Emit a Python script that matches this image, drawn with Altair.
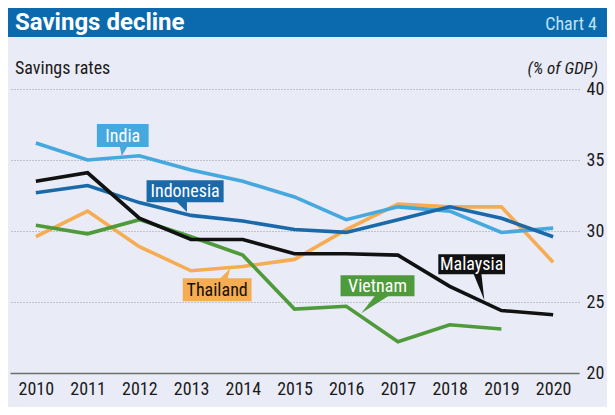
import altair as alt
import pandas as pd

years = [2010, 2011, 2012, 2013, 2014, 2015, 2016, 2017, 2018, 2019, 2020]
india = [36.2, 35.0, 35.3, 34.3, 33.5, 32.4, 30.8, 31.7, 31.4, 29.9, 30.2]
indonesia = [32.7, 33.2, 32.0, 31.1, 30.7, 30.1, 29.9, 30.8, 31.7, 30.9, 29.6]
malaysia = [33.5, 34.1, 30.9, 29.4, 29.4, 28.4, 28.4, 28.3, 26.1, 24.4, 24.1]
thailand = [29.6, 31.4, 28.9, 27.2, 27.5, 28.0, 30.1, 31.9, 31.7, 31.7, 27.8]
vietnam = [30.4, 29.8, 30.8, 29.6, 28.3, 24.5, 24.7, 22.2, 23.4, 23.1, None]

series = {
    "Thailand": (thailand, "#F5AC52"),
    "Vietnam": (vietnam, "#4F9B3C"),
    "India": (india, "#45A8DE"),
    "Indonesia": (indonesia, "#1A69A9"),
    "Malaysia": (malaysia, "#111111"),
}

y_ticks = [20, 25, 30, 35, 40]

# label annotations (data units): box extents, pointer tip, pointer path (px)
labels = ["India", "Indonesia", "Thailand", "Vietnam", "Malaysia"]
box_x1 = [2011.18, 2012.14, 2012.84, 2015.89, 2017.78]
box_x2 = [2012.18, 2013.63, 2014.17, 2017.32, 2019.07]
box_y1 = [37.53, 33.58, 26.67, 26.88, 28.36]
box_y2 = [35.91, 32.03, 25.05, 25.40, 26.95]
tip_x = [2011.66, 2012.92, 2013.76, 2016.29, 2018.67]
tip_y = [35.28, 31.33, 27.38, 24.20, 25.12]
tip_path = ["M0,0 L-2,-10 L6,-10 Z", "M0,0 L-11,-11 L0,-11 Z", "M0,0 L-11,11 L-3,11 Z",
            "M0,0 L15,-19 L30,-19 Z", "M0,0 L-11,-27 L-3,-27 Z"]
box_fill = ["#45A8DE", "#1A69A9", "#F5AC52", "#4F9B3C", "#111111"]
text_col = ["#FFFFFF", "#FFFFFF", "#111111", "#FFFFFF", "#FFFFFF"]

FONT = "Liberation Sans Narrow, Roboto Condensed, Roboto, sans-serif"

rows = []
for name, (vals, col) in series.items():
    for yr, v in zip(years, vals):
        if v is not None:
            rows.append({"year": yr, "value": v, "country": name})
df = pd.DataFrame(rows)

ann = pd.DataFrame({
    "label": labels, "x1": box_x1, "x2": box_x2, "y1": box_y1, "y2": box_y2,
    "tx": tip_x, "ty": tip_y, "path": tip_path, "fill": box_fill, "tcol": text_col,
})
ann["xc"] = (ann["x1"] + ann["x2"]) / 2
ann["yc"] = (ann["y1"] + ann["y2"]) / 2

xscale = alt.Scale(domain=[2009.5, 2020.5], nice=False, zero=False)
yscale = alt.Scale(domain=[20, 40], nice=False, zero=False)

xaxis = alt.Axis(values=years, format="d", title=None, ticks=False, grid=False,
                 domain=True, domainColor="#6f6f6f", domainWidth=1.3,
                 labelFont=FONT, labelFontSize=18, labelColor="#1a1a1a",
                 labelPadding=7, labelFlush=False)
yaxis = alt.Axis(values=y_ticks, orient="right", title=None, ticks=False, domain=False,
                 grid=True, gridDash=[1, 2], gridColor="#9a9a9a", gridWidth=1,
                 labelFont=FONT, labelFontSize=18, labelColor="#1a1a1a",
                 labelPadding=7, labelBaseline="middle")

base_axes = alt.Chart(df).mark_line(opacity=0).encode(
    x=alt.X("year:Q", scale=xscale, axis=xaxis),
    y=alt.Y("value:Q", scale=yscale, axis=yaxis),
    detail="country:N",
)

layers = [base_axes]
for name, (vals, col) in series.items():
    layers.append(
        alt.Chart(df[df["country"] == name]).mark_line(
            color=col, strokeWidth=3.6, strokeJoin="miter", strokeCap="butt"
        ).encode(
            x=alt.X("year:Q", scale=xscale),
            y=alt.Y("value:Q", scale=yscale),
        )
    )

boxes = alt.Chart(ann).mark_rect().encode(
    x=alt.X("x1:Q", scale=xscale), x2="x2:Q",
    y=alt.Y("y1:Q", scale=yscale), y2="y2:Q",
    color=alt.Color("fill:N", scale=None),
)
pointers = alt.Chart(ann).mark_point(filled=True, size=4, opacity=1, strokeWidth=0).encode(
    x=alt.X("tx:Q", scale=xscale),
    y=alt.Y("ty:Q", scale=yscale),
    shape=alt.Shape("path:N", scale=None),
    color=alt.Color("fill:N", scale=None),
)
texts = alt.Chart(ann).mark_text(font=FONT, fontSize=18, baseline="middle", align="center", dy=1).encode(
    x=alt.X("xc:Q", scale=xscale),
    y=alt.Y("yc:Q", scale=yscale),
    text="label:N",
    color=alt.Color("tcol:N", scale=None),
)

one = pd.DataFrame({"k": [0]})
header = alt.Chart(one).mark_rect(color="#0B6AAE").encode(
    x=alt.value(-2), x2=alt.value(597), y=alt.value(-81), y2=alt.value(-52)
)
title = alt.Chart(one).mark_text(text="Savings decline", font="Roboto, sans-serif", fontSize=24,
                                 fontWeight="bold", color="#FFFFFF", align="left",
                                 baseline="alphabetic").encode(
    x=alt.value(5), y=alt.value(-59)
)
chartno = alt.Chart(one).mark_text(text="Chart 4", font=FONT, fontSize=18, color="#BFE3F7",
                                   align="right", baseline="alphabetic").encode(
    x=alt.value(587), y=alt.value(-59)
)
subtitle = alt.Chart(one).mark_text(text="Savings rates", font=FONT, fontSize=18, color="#1a1a1a",
                                    align="left", baseline="alphabetic").encode(
    x=alt.value(5), y=alt.value(-15)
)
unit = alt.Chart(one).mark_text(text="(% of GDP)", font=FONT, fontSize=17, fontStyle="italic",
                                color="#1a1a1a", align="right", baseline="alphabetic").encode(
    x=alt.value(588), y=alt.value(-15)
)

chart = alt.layer(
    *layers, boxes, pointers, texts, header, title, chartno, subtitle, unit
).properties(
    width=569, height=284,
    autosize=alt.AutoSizeParams(type="none"),
    padding={"left": 2, "top": 81, "right": 28, "bottom": 34},
    background="#E9EBF6",
).configure_view(stroke=None)

chart.save("out.html", embed_options={"renderer": "svg", "actions": False})
